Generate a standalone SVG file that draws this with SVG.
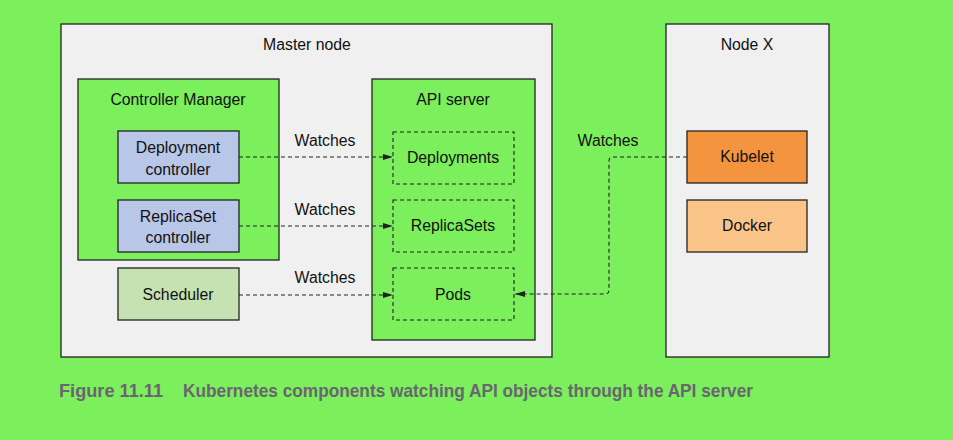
<svg xmlns="http://www.w3.org/2000/svg" width="953" height="440" viewBox="0 0 953 440">
<style>
.t{font-family:"Liberation Sans",Arial,sans-serif;font-size:15.8px;fill:#111;text-anchor:middle}
.box{stroke:#222;stroke-width:1.3}
.dbox{fill:none;stroke:#222;stroke-width:1.1;stroke-dasharray:4,3}
.conn{fill:none;stroke:#222;stroke-width:1.1;stroke-dasharray:4,3}
.cap{font-family:"Liberation Sans",Arial,sans-serif;font-weight:bold;font-size:19px;fill:#6a6570}
</style>
<defs>
<marker id="ah" viewBox="0 0 10 6" refX="10" refY="3" markerWidth="10" markerHeight="6" markerUnits="userSpaceOnUse" orient="auto">
<path d="M0,0 L10,3 L0,6 Z" fill="#222"/>
</marker>
</defs>
<rect width="953" height="440" fill="#7bef5c"/>
<g id="master">
<rect class="box" x="61" y="24" width="491" height="333" fill="#f0f0f0"/>
<text class="t" x="307" y="50">Master node</text>
</g>
<g id="controller-manager">
<rect class="box" x="78" y="79" width="201" height="181" fill="#7bef5c"/>
<text class="t" x="178" y="105">Controller Manager</text>
</g>
<g id="deployment-controller">
<rect class="box" x="118" y="131" width="121" height="52" fill="#b8c6e8"/>
<text class="t" x="178" y="153">Deployment</text>
<text class="t" x="178" y="175">controller</text>
</g>
<g id="replicaset-controller">
<rect class="box" x="118" y="200" width="121" height="52" fill="#b8c6e8"/>
<text class="t" x="178" y="222">ReplicaSet</text>
<text class="t" x="178" y="243">controller</text>
</g>
<g id="scheduler">
<rect class="box" x="118" y="268" width="121" height="52" fill="#c6e2b3"/>
<text class="t" x="178" y="300">Scheduler</text>
</g>
<g id="api-server">
<rect class="box" x="372" y="79" width="163" height="261" fill="#7bef5c"/>
<text class="t" x="453" y="105">API server</text>
</g>
<g id="deployments">
<rect class="dbox" x="393" y="132" width="121" height="52"/>
<text class="t" x="453" y="163">Deployments</text>
</g>
<g id="replicasets">
<rect class="dbox" x="393" y="200" width="121" height="52"/>
<text class="t" x="453" y="231">ReplicaSets</text>
</g>
<g id="pods">
<rect class="dbox" x="393" y="268" width="121" height="52"/>
<text class="t" x="453" y="300">Pods</text>
</g>
<g id="node-x">
<rect class="box" x="666" y="24" width="163" height="333" fill="#f0f0f0"/>
<text class="t" x="747" y="50">Node X</text>
</g>
<g id="kubelet">
<rect class="box" x="687" y="131" width="120" height="52" fill="#f5943f"/>
<text class="t" x="747" y="162">Kubelet</text>
</g>
<g id="docker">
<rect class="box" x="687" y="200" width="120" height="52" fill="#fbc58a"/>
<text class="t" x="747" y="231">Docker</text>
</g>
<g id="connectors">
<path class="conn" d="M239,157 H393" marker-end="url(#ah)"/>
<path class="conn" d="M239,226 H393" marker-end="url(#ah)"/>
<path class="conn" d="M239,295 H393" marker-end="url(#ah)"/>
<path class="conn" d="M687,157 H613 Q609,157 609,161 V290 Q609,294 605,294 H515" marker-end="url(#ah)"/>
<text class="t" x="325" y="146">Watches</text>
<text class="t" x="325" y="215">Watches</text>
<text class="t" x="325" y="283">Watches</text>
<text class="t" x="608" y="146">Watches</text>
</g>
<g id="caption">
<text class="cap" x="59" y="397" textLength="104" lengthAdjust="spacingAndGlyphs">Figure 11.11</text>
<text class="cap" x="183" y="397" textLength="570" lengthAdjust="spacingAndGlyphs">Kubernetes components watching API objects through the API server</text>
</g>
</svg>
